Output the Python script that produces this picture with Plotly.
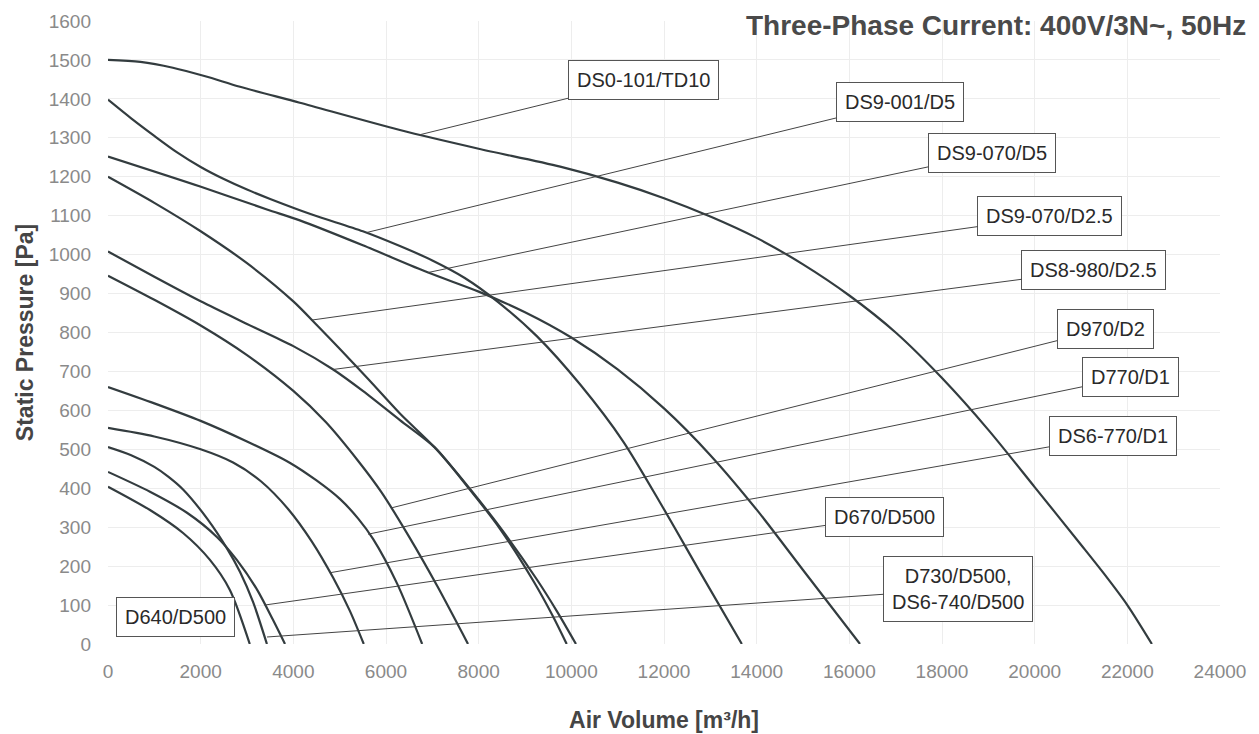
import plotly.graph_objects as go

# ---- data ----
# Air volume [m3/h] / static pressure [Pa] for each fan curve
ds0_101_td10_x = [0, 700, 1400, 2100, 2850, 4140, 6300, 8000, 9760, 11000, 12000, 13000, 14000, 15000, 16000, 17000, 18000, 19000, 20000, 21000, 21500, 22000, 22530]
ds0_101_td10_y = [1500, 1495, 1480, 1458, 1431, 1390, 1320, 1272, 1226, 1185, 1145, 1098, 1043, 975, 895, 800, 683, 550, 403, 255, 180, 100, 0]

ds9_001_d5_x = [0, 500, 1000, 1500, 2000, 2500, 3000, 3500, 4400, 5500, 6300, 7000, 7700, 8400, 9260, 10200, 11120, 11980, 12800, 13680]
ds9_001_d5_y = [1398, 1350, 1305, 1262, 1225, 1194, 1167, 1143, 1103, 1060, 1022, 985, 940, 880, 790, 665, 520, 350, 180, 0]

ds9_070_d5_x = [0, 1990, 3430, 4140, 5500, 6910, 8000, 9000, 10000, 11000, 12000, 13000, 14000, 15000, 16230]
ds9_070_d5_y = [1252, 1175, 1116, 1088, 1024, 954, 905, 852, 787, 705, 605, 485, 345, 190, 0]

ds9_070_d25_x = [0, 1000, 2000, 3000, 4000, 4500, 5000, 5650, 6300, 7050, 7800, 8460, 9260, 9700, 10100]
ds9_070_d25_y = [1200, 1133, 1060, 978, 880, 820, 758, 676, 592, 505, 400, 300, 165, 82, 0]

ds8_980_d25_x = [0, 1000, 2000, 3000, 4000, 4860, 5500, 6300, 7050, 7800, 8460, 9200, 9600, 9900]
ds8_980_d25_y = [1008, 943, 880, 822, 765, 705, 650, 575, 505, 398, 296, 158, 72, 0]

d970_d2_x = [0, 1000, 2000, 3000, 4000, 4700, 5400, 5900, 6500, 7100, 7770]
d970_d2_y = [946, 884, 818, 742, 650, 570, 470, 390, 275, 150, 0]

d770_d1_x = [0, 1000, 2000, 3000, 3930, 4500, 5010, 5400, 5720, 6240, 6780]
d770_d1_y = [660, 618, 573, 520, 465, 420, 372, 322, 270, 155, 0]

ds6_770_d1_x = [0, 1000, 2000, 2700, 3300, 3900, 4400, 4860, 5220, 5520]
ds6_770_d1_y = [555, 533, 500, 466, 418, 345, 263, 170, 85, 0]

d730_d500_x = [0, 500, 1000, 1300, 1620, 2140, 2570, 2850, 3130, 3430]
d730_d500_y = [506, 485, 455, 430, 397, 322, 245, 185, 108, 0]

d670_d500_x = [0, 906, 1705, 2350, 2780, 3220, 3560, 3820]
d670_d500_y = [442, 391, 337, 275, 216, 139, 62, 0]

d640_d500_x = [0, 906, 1620, 2200, 2630, 3060]
d640_d500_y = [404, 344, 285, 216, 139, 0]

curve_names = ["DS0-101/TD10", "DS9-001/D5", "DS9-070/D5", "DS9-070/D2.5", "DS8-980/D2.5",
               "D970/D2", "D770/D1", "DS6-770/D1", "D730/D500, DS6-740/D500", "D670/D500", "D640/D500"]
curves_x = [ds0_101_td10_x, ds9_001_d5_x, ds9_070_d5_x, ds9_070_d25_x, ds8_980_d25_x,
            d970_d2_x, d770_d1_x, ds6_770_d1_x, d730_d500_x, d670_d500_x, d640_d500_x]
curves_y = [ds0_101_td10_y, ds9_001_d5_y, ds9_070_d5_y, ds9_070_d25_y, ds8_980_d25_y,
            d970_d2_y, d770_d1_y, ds6_770_d1_y, d730_d500_y, d670_d500_y, d640_d500_y]

# label texts, label anchor (box centre) and the curve point each leader points to
label_texts = ["DS0-101/TD10", "DS9-001/D5", "DS9-070/D5", "DS9-070/D2.5", "DS8-980/D2.5",
               "D970/D2", "D770/D1", "DS6-770/D1", "D670/D500", "D730/D500,<br>DS6-740/D500", "D640/D500"]
label_box_x = [11547, 17095, 19080, 20330, 21280, 21520, 22060, 21690, 16750, 18350, 1446]
label_box_y = [1449, 1391, 1260, 1098, 961, 810, 686, 535, 326, 141, 69]
label_pt_x = [6734, 5590, 6907, 4403, 4856, 6130, 5612, 4792, 3380, 3432, None]
label_pt_y = [1308, 1057, 954, 832, 705, 350, 282, 183, 100, 18, None]

x_ticks = list(range(0, 24001, 2000))
x_tick_labels = [str(v) for v in x_ticks]
y_ticks = list(range(0, 1601, 100))
y_tick_labels = [str(v) for v in y_ticks]

title_text = "Three-Phase Current: 400V/3N~, 50Hz"
x_title = "Air Volume [m³/h]"
y_title = "Static Pressure [Pa]"

FONT = "Liberation Sans, Arial, sans-serif"
CURVE_COLOR = "#333c3f"

fig = go.Figure()
for name, xs, ys in zip(curve_names, curves_x, curves_y):
    fig.add_trace(go.Scatter(x=xs, y=ys, mode="lines", name=name,
                             line=dict(color=CURVE_COLOR, width=2.2, shape="spline", smoothing=0.8),
                             showlegend=False))

annotations = []
for txt, bx, by, px, py in zip(label_texts, label_box_x, label_box_y, label_pt_x, label_pt_y):
    common = dict(text=txt, font=dict(family=FONT, size=20, color="#2a2a2a"),
                  bgcolor="white", bordercolor="#555555", borderwidth=1, borderpad=8,
                  align="center")
    if px is None:
        annotations.append(dict(x=bx, y=by, xref="x", yref="y", showarrow=False, **common))
    else:
        annotations.append(dict(x=px, y=py, xref="x", yref="y", ax=bx, ay=by,
                                axref="x", ayref="y", showarrow=True, arrowhead=0,
                                arrowwidth=1, arrowcolor="#444444", standoff=0, **common))

annotations.append(dict(text=title_text, xref="paper", yref="paper", x=1, y=1.0209,
                        xanchor="right", yanchor="top", xshift=28, yshift=0,
                        showarrow=False,
                        font=dict(family=FONT, size=28, color="#4a4a4a", weight="bold")))

fig.update_layout(
    width=1251, height=726,
    margin=dict(l=100, r=39, t=13, b=90),
    paper_bgcolor="white", plot_bgcolor="white",
    annotations=annotations,
    font=dict(family=FONT),
)
fig.update_xaxes(range=[0, 24000], tickvals=x_ticks, ticktext=x_tick_labels, showgrid=True,
                 gridcolor="#ededed", zeroline=False, showline=False, ticks="",
                 ticklabelstandoff=14, automargin=False,
                 tickfont=dict(family=FONT, size=19, color="#8a8a8a"),
                 title=dict(text=x_title, standoff=30,
                            font=dict(family=FONT, size=23, color="#454545", weight="bold")))
fig.update_yaxes(range=[0, 1600], tickvals=y_ticks, ticktext=y_tick_labels, showgrid=True,
                 gridcolor="#ededed", zeroline=False, showline=False, ticks="",
                 ticklabelstandoff=16, automargin=False,
                 tickfont=dict(family=FONT, size=19, color="#8a8a8a"),
                 title=dict(text=y_title, standoff=8,
                            font=dict(family=FONT, size=23, color="#454545", weight="bold")))

fig.write_html("out.html")
